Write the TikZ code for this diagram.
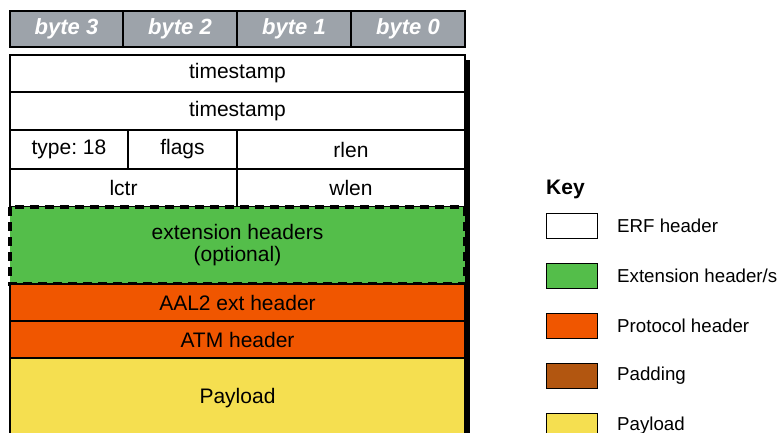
\documentclass[tikz,border=0pt]{standalone}
\usepackage{fontspec}
\setmainfont{Liberation Sans}
\definecolor{hdrgray}{RGB}{157,163,170}
\definecolor{extgreen}{RGB}{84,190,74}
\definecolor{protorange}{RGB}{240,86,0}
\definecolor{padbrown}{RGB}{178,86,16}
\definecolor{payyellow}{RGB}{245,223,80}
\begin{document}
\begin{tikzpicture}[x=1pt,y=-1pt,
  cell/.style={draw=black,line width=1.6pt,anchor=north west,inner sep=0pt,outer sep=0pt,font=\fontsize{21}{23}\selectfont},
  bytecell/.style={cell,fill=hdrgray,text=white,font=\fontsize{22}{24}\selectfont\bfseries\itshape},
  keybox/.style={draw=black,line width=1.2pt,anchor=north west,inner sep=0pt,minimum width=51pt,minimum height=25pt},
  keylabel/.style={anchor=west,inner sep=0pt,font=\fontsize{18.7}{20}\selectfont}]
\useasboundingbox (0,0) rectangle (779,433);
\fill[white] (0,0) rectangle (779,433);
% shadow
\fill[black] (463,60) rectangle (470,433);
% byte header
\node[bytecell,minimum width=113pt,minimum height=36pt] (b3) at (10,11) {byte 3};
\node[bytecell,minimum width=114pt,minimum height=36pt] (b2) at (123,11) {byte 2};
\node[bytecell,minimum width=114pt,minimum height=36pt] (b1) at (237,11) {byte 1};
\node[bytecell,minimum width=114pt,minimum height=36pt] (b0) at (351,11) {byte 0};
% ERF header rows
\node[cell,fill=white,minimum width=455pt,minimum height=37pt] (ts1) at (10,55) {timestamp};
\node[cell,fill=white,minimum width=455pt,minimum height=38pt] (ts2) at (10,92) {timestamp};
\node[cell,fill=white,minimum width=118pt,minimum height=39pt] (type) at (10,130) {type:~18};
\node[cell,fill=white,minimum width=109pt,minimum height=39pt] (flags) at (128,130) {flags};
\node[cell,fill=white,minimum width=228pt,minimum height=39pt] (rlen) at (237,130) {rlen};
\node[cell,fill=white,minimum width=227pt,minimum height=38pt] (lctr) at (10,169) {lctr};
\node[cell,fill=white,minimum width=228pt,minimum height=38pt] (wlen) at (237,169) {wlen};
% extension headers
\node[cell,fill=extgreen,draw=none,minimum width=455pt,minimum height=77pt,align=center,font=\fontsize{21}{22}\selectfont] (ext) at (10,207) {\raisebox{3pt}{extension headers}\\\raisebox{3pt}{(optional)}};
\draw[line width=3.5pt,dash pattern=on 9pt off 6pt] (ext.north west) rectangle (ext.south east);
% protocol headers
\node[cell,fill=protorange,minimum width=455pt,minimum height=37pt] (aal2) at (10,284) {AAL2 ext header};
\node[cell,fill=protorange,minimum width=455pt,minimum height=37pt] (atm) at (10,321) {ATM header};
\node[cell,fill=payyellow,minimum width=455pt,minimum height=80pt] (pay) at (10,358) {\raisebox{4pt}{Payload}};
% key
\node[anchor=west,inner sep=0pt,font=\fontsize{21}{23}\selectfont\bfseries] (key) at (546,189) {Key};
\node[keybox,fill=white] (k1) at (546,213) {};
\node[keybox,fill=extgreen] (k2) at (546,263) {};
\node[keybox,fill=protorange] (k3) at (546,313) {};
\node[keybox,fill=padbrown] (k4) at (546,363) {};
\node[keybox,fill=payyellow] (k5) at (546,413) {};
\node[keylabel] (l1) at (617,226) {ERF header};
\node[keylabel] (l2) at (617,276) {Extension header/s};
\node[keylabel] (l3) at (617,326) {Protocol header};
\node[keylabel] (l4) at (617,376) {Padding};
\node[keylabel] (l5) at (617,426) {Payload};
\end{tikzpicture}
\end{document}
